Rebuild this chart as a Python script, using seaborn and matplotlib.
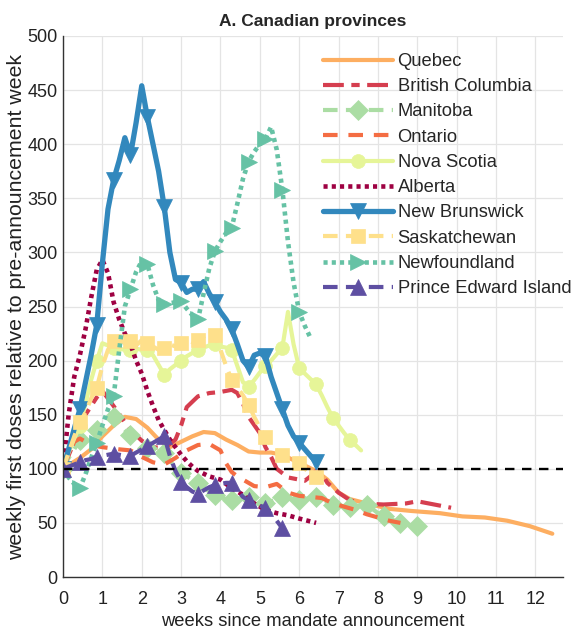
import numpy as np
import matplotlib
matplotlib.use("Agg")
import matplotlib.pyplot as plt
import seaborn as sns

# --- data (days since announcement, weekly first doses relative to pre-announcement week) ---
quebec_days = [0, 3, 5, 7, 9, 11, 13, 15, 17, 19, 21, 23, 25, 27, 29, 31, 33, 35, 37, 39, 41,
               43, 45, 47, 49, 51, 54, 58, 62, 67, 71, 75, 79, 83, 87]
quebec = [100, 110, 118, 130, 140, 148, 146, 138, 127, 120, 125, 130, 134, 133, 127, 122, 116,
          115, 115, 113, 108, 103, 98, 90, 78, 72, 68, 63, 61, 59, 56, 55, 52, 47, 40]

bc_days = [0, 2, 4, 6, 7, 9, 11, 12, 14, 16, 18, 20, 21, 22, 24, 26, 28, 30, 31, 32, 33, 35,
           36, 37, 38, 40, 42, 43, 44, 45, 46, 47, 49, 51, 53, 57, 61, 63, 65, 69]
bc = [100, 125, 150, 166, 172, 158, 143, 136, 126, 120, 119, 127, 140, 157, 167, 170, 171, 173,
      170, 160, 148, 133, 120, 111, 100, 92, 90, 89, 93, 98, 96, 87, 78, 71, 68, 67, 68, 70, 68, 64]

manitoba = [100, 110, 118, 127, 130, 133, 136, 140, 145, 148, 142, 136, 131, 127, 123, 119, 118,
            116, 115, 108, 101, 96, 93, 90, 87, 83, 79, 76, 74, 72, 71, 72, 73, 74, 72, 70, 68,
            70, 72, 74, 73, 72, 71, 72, 73, 74, 72, 69, 67, 66, 66, 65, 66, 66, 67, 63, 59, 56,
            54, 52, 50, 49, 48, 47]

ontario_days = [0, 2, 3, 5, 7, 10, 12, 14, 16, 18, 20, 22, 24, 26, 28, 29, 30, 31, 32, 34, 36,
                38, 40, 42, 44, 46, 48, 50, 52, 54, 56, 58, 60]
ontario = [100, 125, 128, 122, 120, 118, 117, 111, 106, 104, 110, 117, 122, 123, 117, 105, 97,
           93, 90, 84, 83, 86, 78, 75, 74, 73, 68, 65, 62, 58, 55, 52, 50]

nova_scotia = [100, 115, 128, 140, 160, 182, 200, 216, 214, 212, 211, 210, 210, 211, 210, 210,
               205, 196, 187, 192, 196, 200, 204, 207, 210, 212, 214, 215, 213, 212, 210, 195,
               180, 176, 182, 189, 195, 200, 206, 212, 245, 215, 193, 188, 183, 178, 168, 157,
               147, 140, 133, 127, 122, 117]

alberta_days = [0, 1, 2, 3, 4, 5, 6, 7, 8, 9, 10, 11, 12, 13, 14, 15, 16, 17, 18, 19, 20, 21,
                22, 23, 24, 26, 28, 30, 32, 34, 36, 38, 40, 42, 45]
alberta = [100, 150, 185, 205, 229, 258, 284, 293, 281, 254, 238, 225, 215, 200, 188, 172, 158,
           145, 136, 127, 120, 113, 107, 102, 98, 93, 90, 82, 76, 68, 62, 59, 57, 54, 50]

new_brunswick = [100, 118, 137, 155, 180, 205, 233, 290, 340, 367, 385, 406, 390, 420, 454, 425,
                 400, 375, 342, 300, 275, 272, 263, 266, 266, 273, 262, 254, 245, 238, 229, 215,
                 200, 194, 205, 207, 204, 185, 170, 155, 140, 130, 124, 118, 112, 106]

saskatchewan = [100, 115, 130, 143, 152, 165, 175, 195, 210, 218, 220, 216, 218, 214, 219, 216,
                213, 210, 212, 215, 213, 216, 220, 217, 219, 222, 228, 224, 210, 195, 182, 175,
                168, 159, 148, 138, 129, 122, 117, 113, 110, 108, 105, 100, 96, 92, 90]

newfoundland = [100, 92, 86, 82, 95, 110, 124, 140, 155, 167, 210, 250, 266, 282, 292, 289, 270,
                256, 252, 253, 254, 255, 248, 242, 238, 262, 285, 301, 310, 318, 323, 345, 368,
                384, 393, 400, 405, 416, 395, 358, 310, 272, 245, 232, 221]

pei = [100, 102, 104, 106, 108, 109, 111, 112, 113, 114, 113, 112, 112, 115, 118, 121, 124, 127,
       130, 112, 98, 88, 83, 79, 77, 80, 83, 85, 86, 87, 87, 80, 74, 71, 68, 66, 64, 58, 52, 45]

def daily(v):
    return list(range(len(v)))

# ColorBrewer Spectral, 10 classes
spectral = ["#9e0142", "#d53e4f", "#f46d43", "#fdae61", "#fee08b",
            "#e6f598", "#abdda4", "#66c2a5", "#3288bd", "#5e4fa2"]

series = [
    ("Quebec", quebec_days, quebec, spectral[3], "-", None, 0, 3.0),
    ("British Columbia", bc_days, bc, spectral[1], (0, (5, 1.8, 2, 1.8)), None, 0, 3.0),
    ("Manitoba", daily(manitoba), manitoba, spectral[6], (0, (3.5, 2)), "D", 10, 3.0),
    ("Ontario", ontario_days, ontario, spectral[2], (0, (3.5, 2.6)), None, 0, 3.0),
    ("Nova Scotia", daily(nova_scotia), nova_scotia, spectral[5], "-", "o", 10, 3.0),
    ("Alberta", alberta_days, alberta, spectral[0], (0, (0.9, 0.9)), None, 0, 3.3),
    ("New Brunswick", daily(new_brunswick), new_brunswick, spectral[8], "-", "v", 12, 3.8),
    ("Saskatchewan", daily(saskatchewan), saskatchewan, spectral[4], (0, (3.5, 2)), "s", 10, 3.0),
    ("Newfoundland", daily(newfoundland), newfoundland, spectral[7], (0, (0.9, 0.9)), ">", 11, 3.3),
    ("Prince Edward Island", daily(pei), pei, spectral[9], (0, (3.5, 2)), "^", 12, 3.0),
]

sns.set_style("whitegrid", {"grid.color": "#e4e4e4", "axes.edgecolor": "#333333"})
plt.rcParams["font.family"] = ["Liberation Sans", "DejaVu Sans"]

fig = plt.figure(figsize=(5.74, 6.31), dpi=100)
ax = fig.add_axes([63 / 574, 1 - 577 / 631, 500 / 574, 541 / 631])

for name, days, vals, col, ls, mk, ms, lw in series:
    weeks = np.array(days) / 7.0
    kw = dict(color=col, linestyle=ls, linewidth=lw, label=name, ax=ax)
    if mk is not None:
        kw.update(marker=mk, markersize=ms, markevery=3,
                  markeredgecolor=col, markerfacecolor=col, markeredgewidth=0.5)
    sns.lineplot(x=weeks, y=vals, **kw)

ax.axhline(100, color="black", linestyle=(0, (4, 3.2)), linewidth=1.7)

ax.set_xlim(0, 12.7)
ax.set_ylim(0, 500)
ax.set_xticks(range(0, 13))
ax.set_yticks(range(0, 501, 50))
ax.tick_params(direction="in", length=4, width=0.8, colors="#333333", labelsize=13,
               labelcolor="#222222")
ax.tick_params(axis="x", pad=10)
ax.tick_params(axis="y", pad=4)
for s in ["top", "right"]:
    ax.spines[s].set_visible(False)
for s in ["left", "bottom"]:
    ax.spines[s].set_linewidth(1.0)
ax.grid(True, color="#e4e4e4", linewidth=0.9)

ax.set_xlabel("weeks since mandate announcement", fontsize=13.2, color="#222222", labelpad=4)
ax.set_ylabel("weekly first doses relative to pre-announcement week", fontsize=15.3,
              color="#222222", labelpad=1)
ax.set_title("A. Canadian provinces", fontsize=12.5, fontweight="bold", pad=7)

ax.legend(loc="upper left", bbox_to_anchor=(0.52, 0.9686), frameon=False, fontsize=13.2,
          numpoints=1, handlelength=3.8, handletextpad=0.27, labelspacing=0.45,
          borderaxespad=0, borderpad=0)

fig.savefig("out.png", dpi=100)
